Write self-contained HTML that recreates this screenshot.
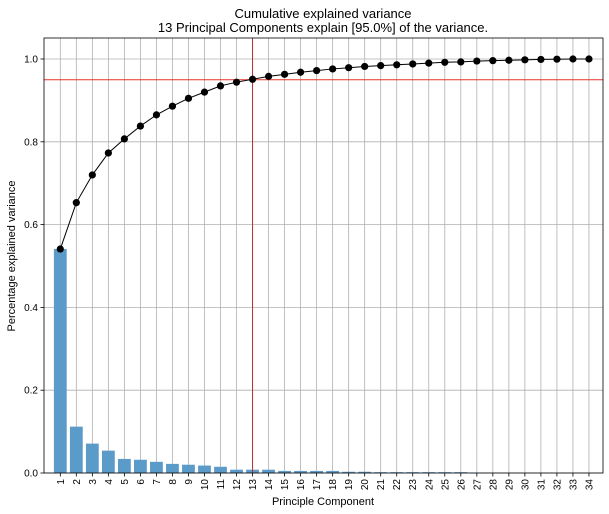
<!DOCTYPE html>
<html><head><meta charset="utf-8"><style>
body{margin:0;background:#fff;font-family:"Liberation Sans","DejaVu Sans",sans-serif}
svg{display:block}
</style></head><body>
<svg id="chart" width="609" height="514" xmlns="http://www.w3.org/2000/svg">
<text x="323" y="18" text-anchor="middle" font-size="13" fill="#000">Cumulative explained variance</text>
<text x="323" y="32" text-anchor="middle" font-size="13" fill="#000">13 Principal Components explain [95.0%] of the variance.</text>
<g id="grid"></g>
<g id="bars"></g>
<g id="lines"></g>
<g id="axes"></g>
<text transform="translate(15,256) rotate(-90)" text-anchor="middle" font-size="11" fill="#000">Percentage explained variance</text>
<text x="323" y="505" text-anchor="middle" font-size="11" fill="#000">Principle Component</text>
</svg>
<script>
const categories = Array.from({length:34},(_,i)=>String(i+1));
const barValues = [0.541,0.112,0.071,0.054,0.034,0.032,0.027,0.022,0.020,0.018,0.015,0.008,0.008,0.008,0.005,0.005,0.005,0.005,0.003,0.003,0.002,0.002,0.002,0.002,0.002,0.002,0.001,0,0,0,0,0,0,0];
const cumValues = [0.541,0.653,0.72,0.773,0.807,0.838,0.865,0.886,0.905,0.92,0.935,0.944,0.951,0.958,0.963,0.968,0.972,0.976,0.979,0.982,0.984,0.986,0.988,0.99,0.992,0.993,0.995,0.996,0.997,0.998,0.999,0.9995,1.0,1.0];
const yTicks = [0,0.2,0.4,0.6,0.8,1.0];
const yTickLabels = ["0.0","0.2","0.4","0.6","0.8","1.0"];
const threshold = 0.95;
const nComponents = 13;

const NS="http://www.w3.org/2000/svg";
const L=44,R=603,T=38,B=473;
const x=i=>60.3+16.02*i;
const y=v=>473-414*v;
function mk(tag,parent,attrs){const e=document.createElementNS(NS,tag);for(const k in attrs)e.setAttribute(k,attrs[k]);document.getElementById(parent).appendChild(e);return e;}

yTicks.forEach((t,i)=>{
  const g=mk('line','grid',{x1:L,x2:R,y1:y(t),y2:y(t),stroke:'#b0b0b0','stroke-width':0.8});
  
  
  const tk=mk('line','axes',{x1:L-3.5,x2:L,y1:y(t),y2:y(t),stroke:'#000','stroke-width':0.8});
  
  
  const lb=mk('text','axes',{x:L-6,y:y(t)+3.5,'text-anchor':'end','font-size':10,fill:'#000'});
  lb.textContent=yTickLabels[i];
  
  
});
categories.forEach((c,i)=>{
  const g=mk('line','grid',{x1:x(i),x2:x(i),y1:T,y2:B,stroke:'#b0b0b0','stroke-width':0.8});
  
  
  const bh=barValues[i]*414;
  if(bh>0){
    const b=mk('rect','bars',{x:x(i)-6.4,y:y(barValues[i]),width:12.8,height:bh,fill:'#5b9bc9'});
    
    
  }
  const tk=mk('line','axes',{x1:x(i),x2:x(i),y1:B,y2:B+3.5,stroke:'#000','stroke-width':0.8});
  
  
  const lb=mk('text','axes',{transform:`translate(${x(i)+3.5},${B+6}) rotate(-90)`,'text-anchor':'end','font-size':10,fill:'#000'});
  lb.textContent=c;
  
  
});
const h=mk('line','lines',{x1:L,x2:R,y1:y(threshold),y2:y(threshold),stroke:'#e8322a','stroke-width':1});


const v=mk('line','lines',{x1:x(nComponents-1),x2:x(nComponents-1),y1:T,y2:B,stroke:'#b83030','stroke-width':1});


const pl=mk('polyline','lines',{points:cumValues.map((c,i)=>x(i)+','+y(c)).join(' '),fill:'none',stroke:'#000','stroke-width':1});


cumValues.forEach((c,i)=>{
  const p=mk('circle','lines',{cx:x(i),cy:y(c),r:3.6,fill:'#000'});
  
  
});
const fr=mk('rect','axes',{x:L,y:T,width:R-L,height:B-T,fill:'none',stroke:'#000','stroke-width':0.8});


</script>
</body></html>
